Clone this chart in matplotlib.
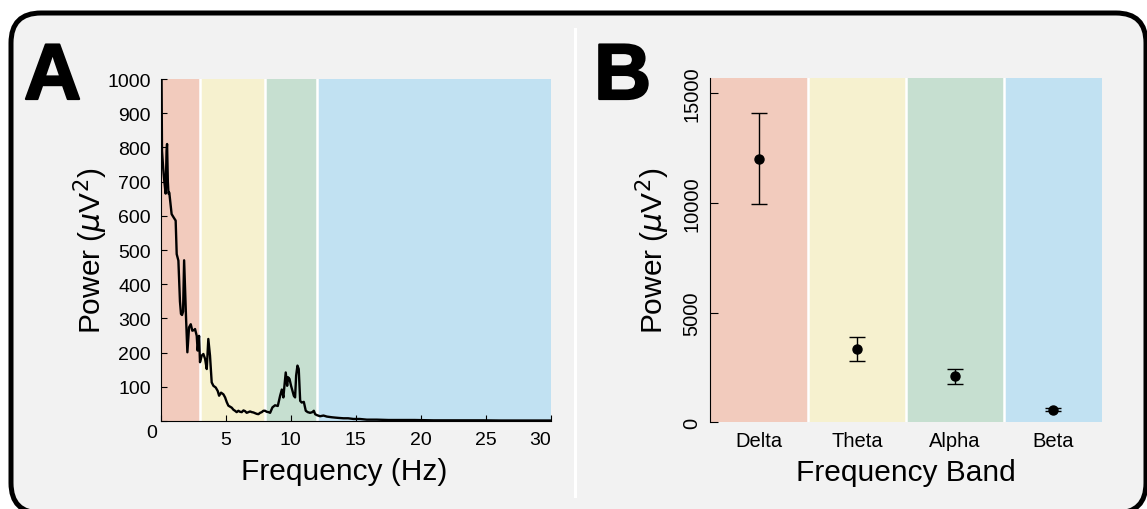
import numpy as np
import matplotlib.pyplot as plt
import matplotlib.patheffects as pe
from matplotlib.patches import FancyBboxPatch

plt.rcParams['font.family'] = ['Liberation Sans', 'DejaVu Sans']

# espectro de potencia (Hz, uV^2)
freq_hz = [0.00, 0.10, 0.20, 0.28, 0.38, 0.45, 0.49, 0.55, 0.60, 0.66,
           0.74, 0.84, 1.00, 1.15, 1.23, 1.36, 1.48, 1.56, 1.64, 1.72,
           1.80, 1.95, 2.05, 2.18, 2.31, 2.43, 2.56, 2.64, 2.77, 2.84,
           2.95, 3.02, 3.15, 3.28, 3.41, 3.54, 3.66, 3.79, 3.92, 4.05,
           4.23, 4.38, 4.49, 4.64, 4.82, 4.95, 5.08, 5.20, 5.33, 5.46,
           5.59, 5.71, 5.84, 5.97, 6.10, 6.23, 6.36, 6.48, 6.61, 6.74,
           6.87, 7.00, 7.13, 7.25, 7.38, 7.51, 7.64, 7.77, 7.89, 8.02,
           8.15, 8.28, 8.41, 8.59, 8.79, 9.00, 9.18, 9.31, 9.43, 9.51,
           9.61, 9.72, 9.79, 9.90, 10.02, 10.13, 10.23, 10.33, 10.41, 10.51,
           10.61, 10.72, 10.84, 11.00, 11.15, 11.30, 11.48, 11.66, 11.77, 11.87,
           12.02, 12.25, 12.51, 12.77, 13.15, 13.41, 13.70, 14.05, 14.40, 14.82,
           15.30, 15.84, 16.60, 17.50, 18.40, 19.50, 20.97, 22.20, 23.50, 24.80,
           26.10, 27.50, 28.80, 30.00]
power_uv2 = [1400, 790, 735, 700, 665, 790, 810, 700, 665, 668,
             640, 605, 595, 586, 488, 469, 350, 313, 310, 320,
             470, 300, 201, 274, 283, 264, 266, 269, 249, 206,
             249, 172, 191, 196, 182, 152, 240, 191, 113, 103,
             98, 88, 74, 83, 78, 69, 55, 45, 42, 39,
             33, 30, 26, 30, 27, 26, 31, 29, 24, 26,
             28, 26, 25, 23, 21, 20, 24, 26, 30, 30,
             27, 26, 24, 40, 46, 44, 74, 92, 69, 103,
             142, 103, 128, 123, 103, 88, 74, 69, 133, 162,
             152, 59, 54, 56, 30, 26, 24, 26, 30, 20,
             17, 14, 16, 13, 11, 10, 9, 8, 8, 6,
             6, 4, 4, 3, 3, 3, 2, 2, 2, 2,
             1.5, 1.5, 1.5, 1.5]

# bandas
bands = ['Delta', 'Theta', 'Alpha', 'Beta']
band_edges = [0, 3, 8, 12, 30]
band_colors = ['#f2cbbd', '#f6f1cf', '#c6dfd0', '#c1e1f2']

# potencia media por banda y barras de error
band_mean = [12030, 3350, 2090, 580]
band_err = [2055, 533, 343, 60]

fig = plt.figure(figsize=(11.47, 5.10), dpi=100)
fig.patch.set_facecolor('white')

# fondo con borde redondeado, en pixeles
bg = fig.add_axes([0, 0, 1, 1], zorder=-5)
bg.set_xlim(0, 1147)
bg.set_ylim(510, 0)
bg.axis('off')
bg.add_patch(FancyBboxPatch((11, 14), 1135, 500,
                            boxstyle='round,pad=0,rounding_size=30',
                            facecolor='#f2f2f2', edgecolor='black', lw=3.6,
                            clip_on=False))
bg.plot([575, 575], [30, 497], color='white', lw=2.2)
letra = [pe.withStroke(linewidth=1.6, foreground='black')]
bg.text(24, 100, 'A', fontsize=57, fontweight='bold', ha='left', va='baseline',
        path_effects=letra)
bg.text(594, 100, 'B', fontsize=57, fontweight='bold', ha='left', va='baseline',
        path_effects=letra)

# ---- A: espectro ----
axA = fig.add_axes([0.1401, 0.1725, 0.3403, 0.6706])
axA.set_facecolor('none')
for i in range(len(bands)):
    axA.axvspan(band_edges[i], band_edges[i + 1], color=band_colors[i], lw=0, zorder=0)
for b in band_edges[1:-1]:
    axA.axvline(b, color='white', lw=1.8, zorder=1)
axA.plot(freq_hz, power_uv2, color='black', lw=1.7, zorder=3)
axA.set_xlim(0, 30)
axA.set_ylim(0, 1000)
axA.set_xticks(range(0, 31, 5))
axA.set_xticklabels([''] + [str(v) for v in range(5, 31, 5)])
axA.get_xticklabels()[-1].set_horizontalalignment('right')
axA.set_yticks(range(0, 1001, 100))
axA.set_yticklabels([''] + [str(v) for v in range(100, 1001, 100)])
axA.tick_params(direction='in', length=4, width=0.8, labelsize=14, pad=7)
axA.text(-0.022, -0.035, '0', transform=axA.transAxes, ha='center', va='center',
         fontsize=14)
for s in ['top', 'right']:
    axA.spines[s].set_visible(False)
axA.set_xlabel('Frequency (Hz)', fontsize=21.5, labelpad=7)
axA.xaxis.set_label_coords(0.47, -0.105)
axA.xaxis.label.set_verticalalignment('top')
axA.set_ylabel(r'Power ($\mu$V$^2$)', fontsize=21.5, labelpad=-1.5)

# ---- B: potencia por banda ----
axB = fig.add_axes([0.619, 0.170, 0.3418, 0.675])
axB.set_facecolor('none')
x = np.arange(len(bands))
for i in range(len(bands)):
    axB.axvspan(x[i] - 0.5, x[i] + 0.5, color=band_colors[i], lw=0, zorder=0)
for i in range(1, len(bands)):
    axB.axvline(x[i] - 0.5, color='white', lw=1.8, zorder=1)
axB.errorbar(x, band_mean, yerr=band_err, fmt='o', color='black', ms=6.5,
             elinewidth=1, capsize=5.5, capthick=1, zorder=3)
axB.set_xlim(-0.5, 3.5)
axB.set_ylim(0, 15700)
axB.set_xticks(x)
axB.set_xticklabels(bands)
axB.set_yticks([0, 5000, 10000, 15000])
axB.tick_params(axis='x', length=0, labelsize=14.5, pad=6)
axB.tick_params(axis='y', direction='in', length=6, width=0.8, labelsize=14.5, pad=6)
for lab in axB.get_yticklabels():
    lab.set_rotation(90)
    lab.set_verticalalignment('center')
for s in ['top', 'right', 'bottom']:
    axB.spines[s].set_visible(False)
axB.set_xlabel('Frequency Band', fontsize=21.5, labelpad=6)
axB.set_ylabel(r'Power ($\mu$V$^2$)', fontsize=21.5, labelpad=8)

fig.savefig('out.png', dpi=100, facecolor=fig.get_facecolor())
